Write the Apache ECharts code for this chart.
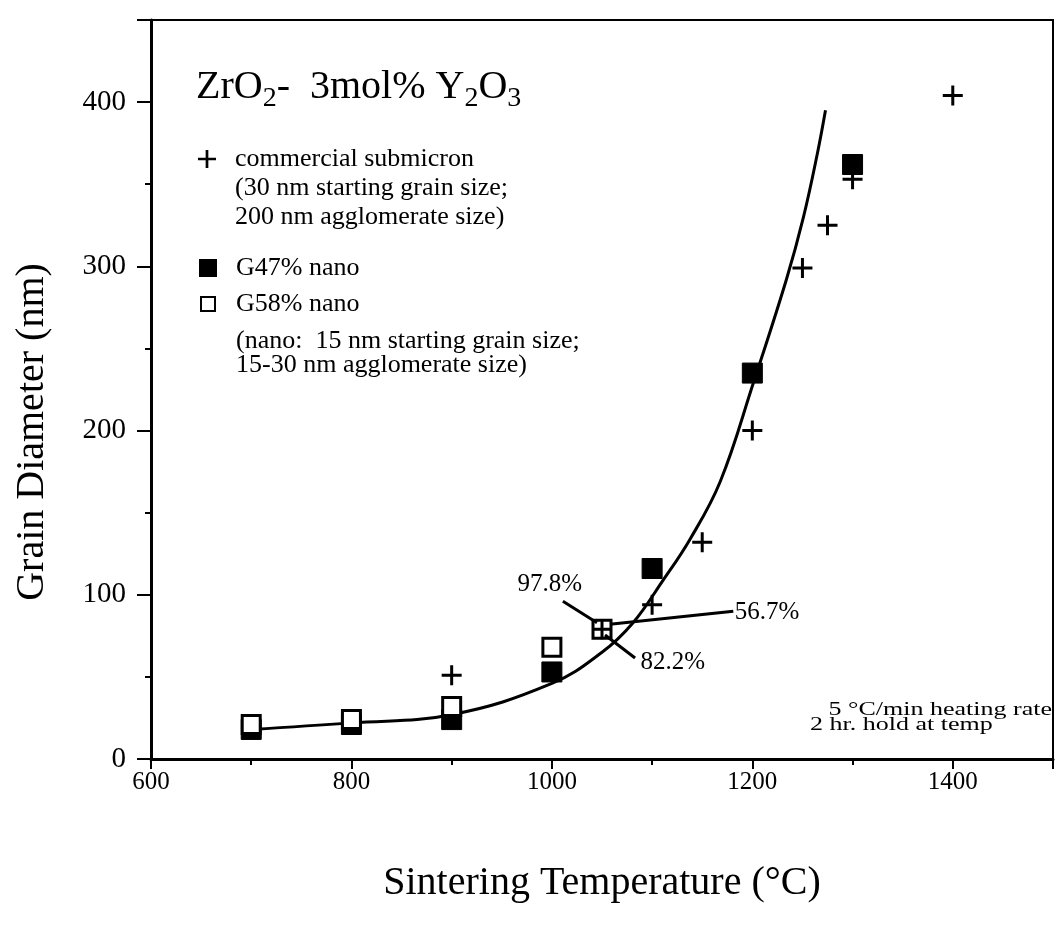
<!DOCTYPE html>
<html>
<head>
<meta charset="utf-8">
<script src="https://cdn.jsdelivr.net/npm/echarts@6/dist/echarts.min.js"></script>
<style>
  html, body { margin: 0; padding: 0; background: #fff; }
  #chart { width: 1056px; height: 932px; }
</style>
</head>
<body>
<div id="chart"></div>
<script>
const FONT = "'Liberation Serif', 'Times New Roman', serif";

// commercial submicron (+)
const crossTemp = [900, 1050, 1100, 1150, 1200, 1250, 1275, 1300, 1400];
const crossSize = [51, 79, 94, 132, 200, 299, 325, 353, 404];

// G47% nano (filled squares)
const g47Temp = [700, 800, 900, 1000, 1100, 1200, 1300];
const g47Size = [18, 21, 24, 53, 116, 235, 362];

// G58% nano (open squares)
const g58Temp = [700, 800, 900, 1000, 1050];
const g58Size = [21, 24, 32, 68, 79];

// hand-drawn trend curve
const curveTemp = [700, 800, 900, 1000, 1050, 1081, 1110, 1138, 1168, 1201, 1234, 1251, 1265, 1273];
const curveSize = [18, 22, 27, 46, 65, 83, 108, 134, 169, 229, 292, 330, 369, 395];

// density callouts
const noteText = ["97.8%", "56.7%", "82.2%"];
const noteTemp = [998, 1182, 1088];
const noteSize = [106, 89, 59];
const leaderFrom = [[1011, 96], [1058, 82], [1053, 75.5]];
const leaderTo = [[1045, 83], [1181, 90], [1083, 61.5]];

const xTicks = [600, 800, 1000, 1200, 1400];
const yTicks = [0, 100, 200, 300, 400];

const zip = (xs, ys) => xs.map((x, i) => [x, ys[i]]);

const chart = echarts.init(document.getElementById("chart"), null, { renderer: "canvas" });

const plusPath = "path://M8.5,0H11.5V8.5H20V11.5H11.5V20H8.5V11.5H0V8.5H8.5Z";

const legendText = (pad) => ({ fontFamily: FONT, fontSize: 26, color: "#000", lineHeight: 24, padding: [0, 0, 0, pad] });

chart.setOption({
  animation: false,
  backgroundColor: "#fff",
  textStyle: { fontFamily: FONT, color: "#000" },
  grid: {
    left: 151, right: 3, top: 20, bottom: 173,
    show: true, borderColor: "#000", borderWidth: 2, backgroundColor: "transparent"
  },
  xAxis: {
    type: "value",
    min: 600, max: 1500, interval: 200,
    name: "Sintering Temperature (°C)",
    nameLocation: "middle", nameGap: 104,
    nameTextStyle: { fontFamily: FONT, fontSize: 40, color: "#000" },
    axisLine: { show: true, onZero: false, lineStyle: { color: "#000", width: 3 } },
    axisTick: { show: true, length: 10, lineStyle: { color: "#000", width: 2 } },
    minorTick: { show: true, splitNumber: 2, length: 6, lineStyle: { color: "#000", width: 2 } },
    splitLine: { show: false },
    axisLabel: {
      fontFamily: FONT, fontSize: 25, color: "#000", margin: 11,
      showMaxLabel: false,
      formatter: (v) => (xTicks.includes(v) ? String(v) : "")
    }
  },
  yAxis: {
    type: "value",
    min: 0, max: 450, interval: 100,
    axisLine: { show: true, lineStyle: { color: "#000", width: 3 } },
    axisTick: { show: true, length: 14, lineStyle: { color: "#000", width: 2 } },
    minorTick: { show: true, splitNumber: 2, length: 6, lineStyle: { color: "#000", width: 2 } },
    splitLine: { show: false },
    axisLabel: {
      fontFamily: FONT, fontSize: 29, color: "#000", margin: 25,
      showMaxLabel: false,
      formatter: (v) => (yTicks.includes(v) ? String(v) : "")
    }
  },
  legend: [
    {
      data: ["commercial submicron"], left: 198, top: 146, padding: 0,
      itemWidth: 18, itemHeight: 18, textStyle: legendText(14), selectedMode: false
    },
    {
      data: ["G47% nano"], left: 199, top: 255, padding: 0,
      itemWidth: 16, itemHeight: 16, textStyle: legendText(15), selectedMode: false
    },
    {
      data: ["G58% nano"], left: 200, top: 291, padding: 0,
      itemWidth: 14, itemHeight: 14, textStyle: legendText(16), selectedMode: false
    }
  ],
  graphic: [
    {
      type: "text", left: 196, top: 67,
      style: {
        text: "{b|ZrO}{s|2}{b|-  3mol% Y}{s|2}{b|O}{s|3}",
        fill: "#000",
        rich: {
          b: { fontFamily: FONT, fontSize: 40, lineHeight: 52, verticalAlign: "middle", fill: "#000" },
          s: { fontFamily: FONT, fontSize: 28, lineHeight: 52, verticalAlign: "bottom", fill: "#000" }
        }
      }
    },
    {
      type: "text", x: 32, y: 432, rotation: Math.PI / 2,
      style: {
        text: "Grain Diameter (nm)",
        fontFamily: FONT, fontSize: 40, fill: "#000", align: "center", verticalAlign: "middle"
      }
    },
    {
      type: "text", left: 235, top: 174,
      style: {
        text: "(30 nm starting grain size;\n200 nm agglomerate size)",
        fontFamily: FONT, fontSize: 26, lineHeight: 29, fill: "#000"
      }
    },
    {
      type: "text", left: 236, top: 328,
      style: {
        text: "(nano:  15 nm starting grain size;\n15-30 nm agglomerate size)",
        fontFamily: FONT, fontSize: 26, lineHeight: 24, fill: "#000"
      }
    },
    {
      type: "text", x: 1052, y: 710, scaleY: 0.7,
      style: {
        text: "5 °C/min heating rate",
        fontFamily: FONT, fontSize: 26, fill: "#000", align: "right", verticalAlign: "middle"
      }
    },
    {
      type: "text", x: 810, y: 725, scaleY: 0.7,
      style: {
        text: "2 hr. hold at temp",
        fontFamily: FONT, fontSize: 26, fill: "#000", align: "left", verticalAlign: "middle"
      }
    }
  ],
  series: [
    {
      name: "trend",
      type: "line",
      data: zip(curveTemp, curveSize),
      smooth: 0.4,
      showSymbol: false,
      lineStyle: { color: "#000", width: 3 },
      silent: true,
      z: 2,
      markLine: {
        silent: true,
        symbol: ["none", "none"],
        label: { show: false },
        lineStyle: { color: "#000", width: 3, type: "solid" },
        data: leaderFrom.map((p, i) => [{ coord: p }, { coord: leaderTo[i] }])
      }
    },
    {
      name: "G47% nano",
      type: "scatter",
      data: zip(g47Temp, g47Size),
      symbol: "rect",
      symbolSize: 20,
      itemStyle: { color: "#000", borderColor: "#000", borderWidth: 1, opacity: 1 },
      z: 3
    },
    {
      name: "G58% nano",
      type: "scatter",
      data: zip(g58Temp, g58Size),
      symbol: "rect",
      symbolSize: 18,
      itemStyle: { color: "#fff", borderColor: "#000", borderWidth: 3, opacity: 1 },
      z: 4
    },
    {
      name: "commercial submicron",
      type: "scatter",
      data: zip(crossTemp, crossSize),
      symbol: plusPath,
      symbolSize: 20,
      itemStyle: { color: "#000", opacity: 1 },
      z: 5
    },
    {
      name: "notes",
      type: "scatter",
      data: noteText.map((t, i) => ({
        value: [noteTemp[i], noteSize[i]],
        label: {
          show: true,
          formatter: t,
          position: i === 0 ? "inside" : "right",
          distance: 0,
          fontFamily: FONT,
          fontSize: 25,
          color: "#000",
          opacity: 1
        }
      })),
      symbolSize: 1,
      itemStyle: { color: "rgba(0,0,0,0)", opacity: 1 },
      silent: true,
      z: 6
    }
  ]
});
</script>
</body>
</html>
